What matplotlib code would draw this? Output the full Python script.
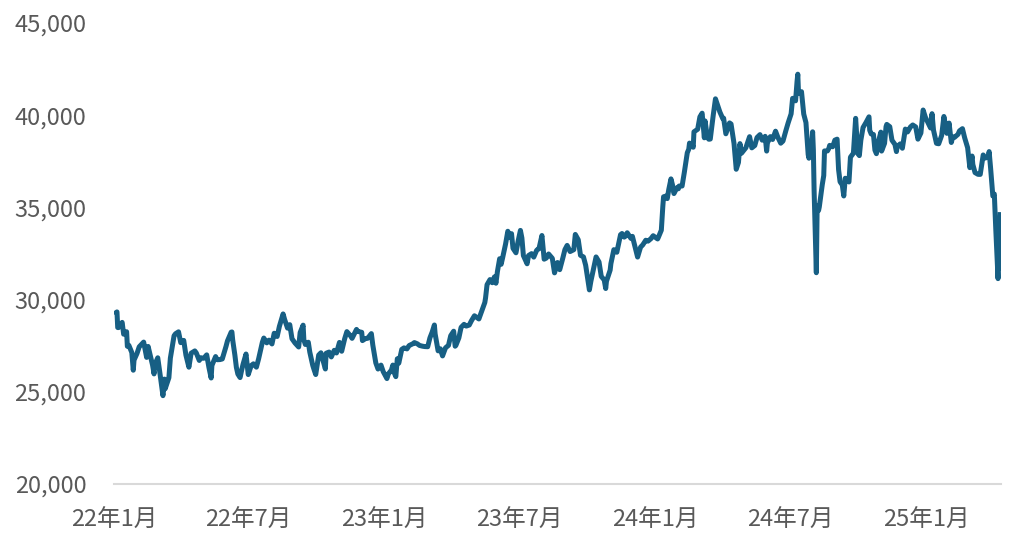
import matplotlib
matplotlib.use("Agg")
import matplotlib.pyplot as plt
import matplotlib.ticker as mticker
import pandas as pd

plt.rcParams["font.family"] = ["Noto Sans CJK JP", "DejaVu Sans"]

# Daily closes (selected trading days)
dates_2022 = [
    "2022-01-04", "2022-01-05", "2022-01-06", "2022-01-07", "2022-01-12", "2022-01-14",
    "2022-01-18", "2022-01-19", "2022-01-21", "2022-01-25", "2022-01-27", "2022-01-28",
    "2022-02-01", "2022-02-04", "2022-02-10", "2022-02-14", "2022-02-16", "2022-02-18",
    "2022-02-22", "2022-02-24", "2022-02-25", "2022-03-01", "2022-03-04", "2022-03-08",
    "2022-03-10", "2022-03-11", "2022-03-16", "2022-03-18", "2022-03-23", "2022-03-25",
    "2022-03-29", "2022-04-01", "2022-04-05", "2022-04-08", "2022-04-12", "2022-04-15",
    "2022-04-20", "2022-04-22", "2022-04-26", "2022-04-28", "2022-05-02", "2022-05-06",
    "2022-05-09", "2022-05-12", "2022-05-13", "2022-05-18", "2022-05-20", "2022-05-24",
    "2022-05-27", "2022-06-01", "2022-06-03", "2022-06-08", "2022-06-09", "2022-06-10",
    "2022-06-13", "2022-06-15", "2022-06-17", "2022-06-20", "2022-06-22", "2022-06-24",
    "2022-06-28", "2022-07-01", "2022-07-05", "2022-07-08", "2022-07-12", "2022-07-15",
    "2022-07-20", "2022-07-22", "2022-07-26", "2022-07-29", "2022-08-02", "2022-08-05",
    "2022-08-09", "2022-08-12", "2022-08-17", "2022-08-19", "2022-08-23", "2022-08-26",
    "2022-08-29", "2022-09-02", "2022-09-07", "2022-09-09", "2022-09-13", "2022-09-14",
    "2022-09-16", "2022-09-20", "2022-09-22", "2022-09-26", "2022-09-28", "2022-09-30",
    "2022-10-04", "2022-10-07", "2022-10-13", "2022-10-14", "2022-10-18", "2022-10-21",
    "2022-10-25", "2022-10-28", "2022-11-01", "2022-11-04", "2022-11-08", "2022-11-11",
    "2022-11-16", "2022-11-18", "2022-11-24", "2022-11-25", "2022-12-01", "2022-12-02",
    "2022-12-06", "2022-12-09", "2022-12-14", "2022-12-16", "2022-12-20", "2022-12-23",
    "2022-12-27", "2022-12-30",
]
values_2022 = [
    29301, 29332, 28487, 28478, 28765, 28124,
    28257, 27467, 27522, 27131, 26170, 26717,
    27078, 27440, 27696, 26865, 27460, 27122,
    26449, 25970, 26476, 26844, 25985, 24790,
    25690, 25163, 25762, 26827, 28040, 28149,
    28252, 27666, 27787, 26985, 26335, 27093,
    27217, 27105, 26700, 26847, 26818, 27003,
    26319, 25748, 26427, 26911, 26739, 26748,
    26781, 27457, 27761, 28234, 28246, 27824,
    26987, 26326, 25963, 25771, 26149, 26491,
    27049, 25935, 26423, 26517, 26336, 26788,
    27680, 27915, 27655, 27801, 27595, 28175,
    27999, 28547, 29222, 28930, 28452, 28641,
    27878, 27650, 27430, 28214, 28614, 27818,
    27567, 27688, 27153, 26431, 26173, 25937,
    26992, 27116, 26237, 27090, 27156, 26890,
    27250, 27105, 27678, 27199, 27872, 28263,
    28029, 27899, 28383, 28283, 28226, 27777,
    27885, 27901, 28156, 27527, 26568, 26235,
    26447, 26094,
]

dates_2023 = [
    "2023-01-04", "2023-01-06", "2023-01-10", "2023-01-12", "2023-01-13", "2023-01-16",
    "2023-01-18", "2023-01-20", "2023-01-24", "2023-01-27", "2023-01-31", "2023-02-03",
    "2023-02-08", "2023-02-10", "2023-02-14", "2023-02-17", "2023-02-21", "2023-02-24",
    "2023-02-28", "2023-03-03", "2023-03-06", "2023-03-09", "2023-03-10", "2023-03-14",
    "2023-03-15", "2023-03-17", "2023-03-20", "2023-03-24", "2023-03-28", "2023-03-31",
    "2023-04-04", "2023-04-06", "2023-04-07", "2023-04-11", "2023-04-14", "2023-04-18",
    "2023-04-21", "2023-04-25", "2023-04-28", "2023-05-02", "2023-05-08", "2023-05-12",
    "2023-05-16", "2023-05-17", "2023-05-19", "2023-05-23", "2023-05-26", "2023-05-29",
    "2023-05-31", "2023-06-02", "2023-06-05", "2023-06-07", "2023-06-09", "2023-06-13",
    "2023-06-16", "2023-06-19", "2023-06-21", "2023-06-23", "2023-06-27", "2023-06-30",
    "2023-07-03", "2023-07-05", "2023-07-07", "2023-07-12", "2023-07-14", "2023-07-18",
    "2023-07-21", "2023-07-25", "2023-07-28", "2023-08-01", "2023-08-04", "2023-08-07",
    "2023-08-10", "2023-08-15", "2023-08-18", "2023-08-22", "2023-08-25", "2023-08-29",
    "2023-09-01", "2023-09-04", "2023-09-08", "2023-09-13", "2023-09-15", "2023-09-19",
    "2023-09-22", "2023-09-26", "2023-09-29", "2023-10-04", "2023-10-06", "2023-10-10",
    "2023-10-13", "2023-10-17", "2023-10-20", "2023-10-24", "2023-10-26", "2023-10-27",
    "2023-11-01", "2023-11-02", "2023-11-06", "2023-11-10", "2023-11-15", "2023-11-17",
    "2023-11-20", "2023-11-22", "2023-11-24", "2023-11-29", "2023-12-01", "2023-12-05",
    "2023-12-08", "2023-12-12", "2023-12-15", "2023-12-19", "2023-12-22", "2023-12-26",
    "2023-12-29",
]
values_2023 = [
    25717, 25973, 26175, 26449, 26119, 25822,
    26791, 26553, 27299, 27382, 27327, 27509,
    27606, 27670, 27602, 27513, 27473, 27453,
    27445, 27927, 28237, 28623, 28143, 27222,
    27229, 27333, 26946, 27385, 27518, 28041,
    28287, 27472, 27518, 27923, 28493, 28658,
    28564, 28620, 28856, 29123, 28949, 29388,
    29842, 30093, 30808, 31086, 30916, 31233,
    30888, 31524, 32217, 31913, 32265, 33018,
    33706, 33370, 33575, 32781, 32538, 33189,
    33753, 33338, 32388, 31943, 32391, 32493,
    32304, 32682, 32759, 33476, 32192, 32254,
    32473, 32238, 31450, 32011, 31624, 32227,
    32710, 32939, 32606, 32707, 33533, 33243,
    32402, 32315, 31857, 30526, 30994, 31747,
    32315, 32040, 31259, 31062, 30601, 30991,
    31601, 31950, 32708, 32568, 33519, 33585,
    33388, 33452, 33625, 33321, 33431, 32775,
    32307, 32844, 32970, 33219, 33169, 33306,
    33464,
]

dates_2024 = [
    "2024-01-04", "2024-01-05", "2024-01-09", "2024-01-11", "2024-01-12", "2024-01-16",
    "2024-01-17", "2024-01-19", "2024-01-22", "2024-01-24", "2024-01-26", "2024-01-30",
    "2024-02-01", "2024-02-02", "2024-02-06", "2024-02-09", "2024-02-13", "2024-02-15",
    "2024-02-16", "2024-02-20", "2024-02-21", "2024-02-22", "2024-02-27", "2024-03-01",
    "2024-03-04", "2024-03-07", "2024-03-08", "2024-03-11", "2024-03-13", "2024-03-15",
    "2024-03-19", "2024-03-22", "2024-03-26", "2024-03-28", "2024-04-01", "2024-04-02",
    "2024-04-05", "2024-04-08", "2024-04-10", "2024-04-12", "2024-04-16", "2024-04-19",
    "2024-04-22", "2024-04-24", "2024-04-26", "2024-05-02", "2024-05-07", "2024-05-10",
    "2024-05-14", "2024-05-17", "2024-05-21", "2024-05-24", "2024-05-28", "2024-05-30",
    "2024-05-31", "2024-06-04", "2024-06-07", "2024-06-11", "2024-06-14", "2024-06-18",
    "2024-06-21", "2024-06-25", "2024-06-28", "2024-07-02", "2024-07-04", "2024-07-05",
    "2024-07-08", "2024-07-10", "2024-07-11", "2024-07-12", "2024-07-16", "2024-07-19",
    "2024-07-22", "2024-07-25", "2024-07-26", "2024-07-30", "2024-07-31", "2024-08-01",
    "2024-08-02", "2024-08-05", "2024-08-06", "2024-08-07", "2024-08-08", "2024-08-09",
    "2024-08-13", "2024-08-15", "2024-08-16", "2024-08-20", "2024-08-22", "2024-08-23",
    "2024-08-27", "2024-08-30", "2024-09-02", "2024-09-04", "2024-09-06", "2024-09-09",
    "2024-09-11", "2024-09-13", "2024-09-18", "2024-09-20", "2024-09-24", "2024-09-27",
    "2024-09-30", "2024-10-02", "2024-10-04", "2024-10-07", "2024-10-11", "2024-10-15",
    "2024-10-16", "2024-10-18", "2024-10-21", "2024-10-23", "2024-10-25", "2024-10-28",
    "2024-10-31", "2024-11-01", "2024-11-05", "2024-11-07", "2024-11-08", "2024-11-12",
    "2024-11-15", "2024-11-19", "2024-11-21", "2024-11-22", "2024-11-26", "2024-11-29",
    "2024-12-03", "2024-12-06", "2024-12-10", "2024-12-13", "2024-12-17", "2024-12-20",
    "2024-12-24", "2024-12-27", "2024-12-30",
]
values_2024 = [
    33288, 33377, 33763, 35049, 35577, 35620,
    35477, 35963, 36546, 36226, 35751, 36066,
    36011, 36158, 36160, 36897, 37963, 38157,
    38487, 38363, 38262, 39098, 39239, 39910,
    40109, 38773, 39688, 38820, 38695, 38707,
    40003, 40888, 40398, 40168, 39803, 39838,
    38992, 39347, 39581, 39523, 38471, 37068,
    37438, 38460, 37934, 38236, 38835, 38229,
    38356, 38787, 38946, 38646, 38855, 38054,
    38487, 38837, 38683, 39134, 38814, 38482,
    38596, 39173, 39583, 40074, 40913, 40912,
    40780, 41831, 42224, 41190, 41275, 40063,
    39599, 37869, 37667, 38526, 39101, 38126,
    35909, 31458, 34675, 35089, 34831, 35025,
    36232, 36726, 38062, 38062, 38211, 38364,
    38288, 38648, 38700, 37047, 36391, 36215,
    35620, 36581, 36380, 37724, 37941, 39830,
    37920, 37808, 38636, 39333, 39606, 39911,
    39181, 38982, 38955, 38105, 37914, 38606,
    39081, 38054, 38474, 39381, 39500, 39377,
    38642, 38415, 38026, 38283, 38442, 38208,
    39248, 39091, 39367, 39470, 39364, 38701,
    39036, 40281, 39894,
]

dates_2025 = [
    "2025-01-06", "2025-01-08", "2025-01-10", "2025-01-14", "2025-01-17", "2025-01-21",
    "2025-01-24", "2025-01-28", "2025-01-31", "2025-02-03", "2025-02-05", "2025-02-07",
    "2025-02-12", "2025-02-14", "2025-02-18", "2025-02-21", "2025-02-25", "2025-02-28",
    "2025-03-03", "2025-03-04", "2025-03-07", "2025-03-11", "2025-03-14", "2025-03-18",
    "2025-03-21", "2025-03-25", "2025-03-26", "2025-03-28", "2025-03-31", "2025-04-02",
    "2025-04-03", "2025-04-04", "2025-04-07", "2025-04-08", "2025-04-09", "2025-04-10",
]
values_2025 = [
    39307, 40083, 39190, 38474, 38451, 38902,
    39931, 39016, 39572, 38520, 38831, 38787,
    38963, 39149, 39270, 38776, 38237, 37155,
    37785, 37331, 36887, 36793, 36790, 37845,
    37677, 37780, 38027, 37120, 35617, 35725,
    34736, 33780, 31136, 33012, 31714, 34609,
]

dates = pd.to_datetime(dates_2022 + dates_2023 + dates_2024 + dates_2025)
values = values_2022 + values_2023 + values_2024 + values_2025

tick_dates = pd.to_datetime(["2022-01-01", "2022-07-01", "2023-01-01", "2023-07-01",
                             "2024-01-01", "2024-07-01", "2025-01-01"])
tick_labels = ["22年1月", "22年7月", "23年1月", "23年7月", "24年1月", "24年7月", "25年1月"]
y_ticks = [20000, 25000, 30000, 35000, 40000, 45000]

fig = plt.figure(figsize=(10.24, 5.55), dpi=100)
ax = fig.add_axes([114 / 1024, 71 / 555, 887 / 1024, 461 / 555])

ax.plot(dates, values, color="#175f84", lw=3.6, solid_joinstyle="round")

ax.set_xlim(pd.Timestamp("2022-01-01"), pd.Timestamp("2025-04-11"))
ax.set_ylim(20000, 45000)
ax.set_xticks(tick_dates)
ax.set_xticklabels(tick_labels)
ax.set_yticks(y_ticks)
ax.yaxis.set_major_formatter(mticker.FuncFormatter(lambda v, p: f"{int(v):,}"))

for s in ["top", "right", "left"]:
    ax.spines[s].set_visible(False)
ax.spines["bottom"].set_color("#d9d9d9")
ax.spines["bottom"].set_linewidth(1.5)

ax.tick_params(axis="both", length=0, labelsize=17, labelcolor="#595959")
ax.tick_params(axis="y", pad=20)
ax.tick_params(axis="x", pad=18)

fig.savefig("out.png", dpi=100)
